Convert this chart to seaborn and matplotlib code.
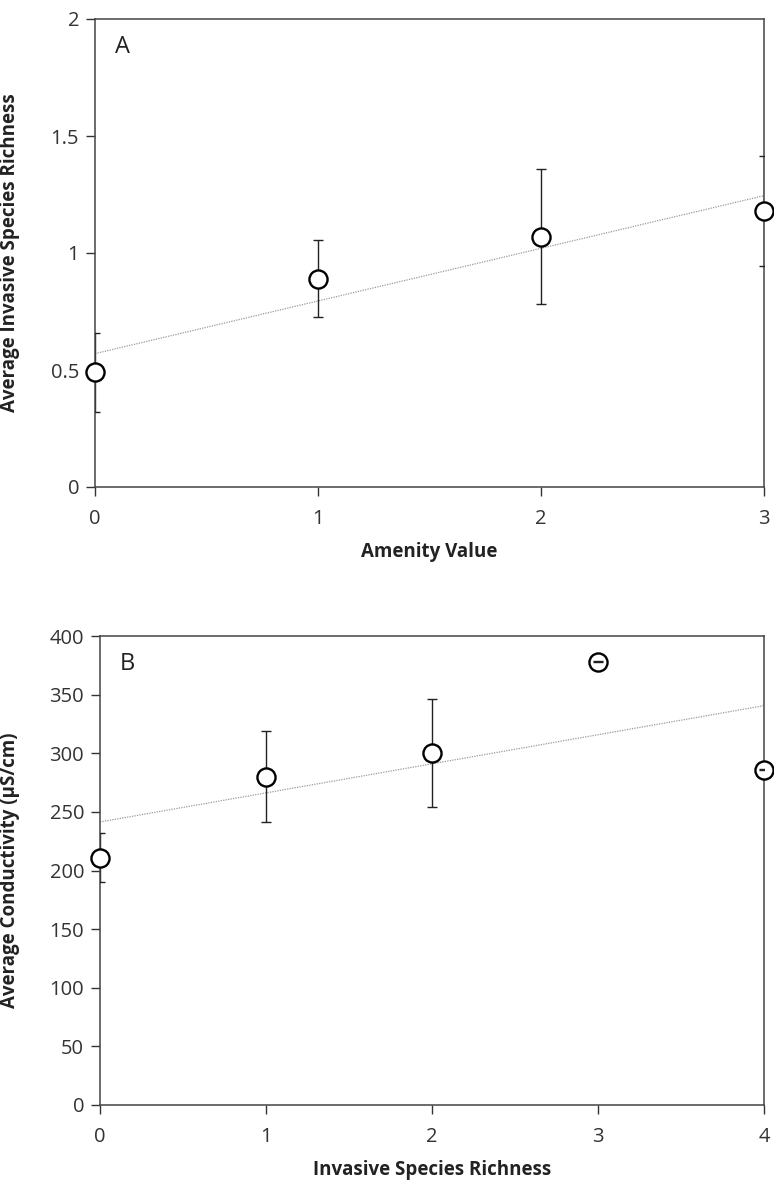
import matplotlib
matplotlib.use('Agg')
import matplotlib.pyplot as plt
import seaborn as sns
import pandas as pd
from matplotlib.ticker import FuncFormatter

# Panel A: amenity value vs invasive species richness
amenity = [0, 1, 2, 3]
richness_mean = [0.49, 0.89, 1.07, 1.18]
richness_err = [0.17, 0.165, 0.29, 0.235]

# Panel B: invasive species richness vs conductivity
richness_cls = [0, 1, 2, 3, 4]
cond_mean = [211, 280, 300, 378, 286]
cond_err = [21, 39, 46, 0.4, 0.4]

sns.set_style('white')
plt.rcParams['font.family'] = ['Open Sans', 'DejaVu Sans']

W, H = 774, 1188
fig = plt.figure(figsize=(W / 100, H / 100), dpi=100)


def px_axes(left, top, right, bottom):
    return fig.add_axes([left / W, 1 - bottom / H, (right - left) / W, (bottom - top) / H])


def panel(ax, x, y, err, xmax, ymax, ystep, xlabel, ylabel, letter, ylab_x):
    df = pd.DataFrame({'x': x, 'y': y})
    sns.regplot(data=df, x='x', y='y', ax=ax, scatter=False, ci=None, truncate=True,
                line_kws=dict(color='#9a9a9a', lw=0.9, ls=(0, (1, 1)), zorder=1))
    _, caps, bars = ax.errorbar(x, y, yerr=err, fmt='none', ecolor='#222222',
                                elinewidth=1.0, capsize=3.5, capthick=1.0, zorder=2)
    sns.scatterplot(data=df, x='x', y='y', ax=ax, marker='o', s=170, facecolor='white',
                    edgecolor='black', linewidth=1.7, clip_on=False, zorder=3)
    for c in caps:
        c.set_zorder(4)
    ax.set_xlim(0, xmax)
    ax.set_ylim(0, ymax)
    ax.set_xticks(range(0, xmax + 1))
    yt = [i * ystep for i in range(int(round(ymax / ystep)) + 1)]
    ax.set_yticks(yt)
    ax.yaxis.set_major_formatter(FuncFormatter(lambda v, p: f'{v:g}'))
    ax.tick_params(axis='both', which='major', direction='out', length=6.5, width=1,
                   color='#333333', labelsize=14.5, labelcolor='#333333',
                   left=True, bottom=True, right=False, top=False)
    ax.tick_params(axis='x', pad=9)
    ax.tick_params(axis='y', pad=5)
    for s in ax.spines.values():
        s.set_color('#444444')
        s.set_linewidth(1.1)
    ax.set_xlabel(xlabel, fontsize=13.5, fontweight='bold', color='#222222', labelpad=10)
    ax.set_ylabel(ylabel, fontsize=13.5, fontweight='bold', color='#222222')
    ax.yaxis.set_label_coords(ylab_x, 0.5)
    ax.text(0.03, 0.94, letter, transform=ax.transAxes, fontsize=17, va='center',
            ha='left', color='#222222')


axA = px_axes(95, 19, 764, 487)
panel(axA, amenity, richness_mean, richness_err, 3, 2, 0.5,
      'Amenity Value', 'Average Invasive Species Richness', 'A', -0.112)

axB = px_axes(100, 636, 764, 1105)
panel(axB, richness_cls, cond_mean, cond_err, 4, 400, 50,
      'Invasive Species Richness', 'Average Conductivity (µS/cm)', 'B', -0.12)

fig.savefig('out.png', dpi=100, facecolor='white')
